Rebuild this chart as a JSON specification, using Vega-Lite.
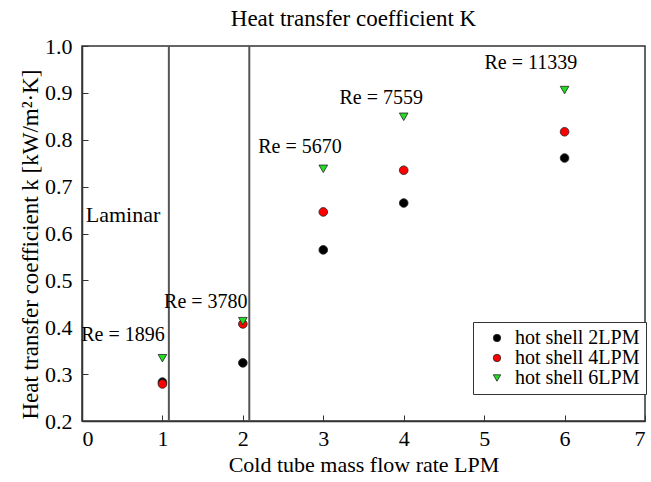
{
  "$schema": "https://vega.github.io/schema/vega-lite/v6.json",
  "width": 563,
  "height": 375,
  "autosize": {"type": "none"},
  "padding": {"left": 82, "top": 46, "right": 6, "bottom": 61},
  "background": "white",
  "config": {
    "font": "Liberation Serif",
    "view": {"stroke": "#333", "strokeWidth": 1.5},
    "axis": {"labelFont": "Liberation Serif", "titleFont": "Liberation Serif", "labelFontSize": 22, "titleFontSize": 22, "titleFontWeight": "normal", "labelColor": "black", "titleColor": "black", "grid": false, "domainColor": "#333", "tickColor": "#333", "domainWidth": 1.5}
  },
  "title": {"text": "Heat transfer coefficient K", "fontSize": 23, "fontWeight": "normal", "font": "Liberation Serif", "color": "black", "anchor": "middle", "offset": 4, "dx": -10},
  "datasets": {
    "pts": [
      {"flow": 1, "k": 0.283, "series": "hot shell 2LPM"},
      {"flow": 2, "k": 0.324, "series": "hot shell 2LPM"},
      {"flow": 3, "k": 0.565, "series": "hot shell 2LPM"},
      {"flow": 4, "k": 0.665, "series": "hot shell 2LPM"},
      {"flow": 6, "k": 0.761, "series": "hot shell 2LPM"},
      {"flow": 1, "k": 0.279, "series": "hot shell 4LPM"},
      {"flow": 2, "k": 0.407, "series": "hot shell 4LPM"},
      {"flow": 3, "k": 0.646, "series": "hot shell 4LPM"},
      {"flow": 4, "k": 0.735, "series": "hot shell 4LPM"},
      {"flow": 6, "k": 0.817, "series": "hot shell 4LPM"},
      {"flow": 1, "k": 0.334, "series": "hot shell 6LPM"},
      {"flow": 2, "k": 0.413, "series": "hot shell 6LPM"},
      {"flow": 3, "k": 0.738, "series": "hot shell 6LPM"},
      {"flow": 4, "k": 0.849, "series": "hot shell 6LPM"},
      {"flow": 6, "k": 0.906, "series": "hot shell 6LPM"}
    ],
    "lines": [{"flow": 1.08}, {"flow": 2.08}],
    "labels": [
      {"flow": 0.51, "k": 0.383, "label": "Re = 1896", "size": 20},
      {"flow": 1.54, "k": 0.454, "label": "Re = 3780", "size": 20},
      {"flow": 2.71, "k": 0.785, "label": "Re = 5670", "size": 20},
      {"flow": 3.72, "k": 0.889, "label": "Re = 7559", "size": 20},
      {"flow": 5.58, "k": 0.964, "label": "Re = 11339", "size": 20},
      {"flow": 0.51, "k": 0.64, "label": "Laminar", "size": 22}
    ]
  },
  "layer": [
    {
      "data": {"name": "lines"},
      "mark": {"type": "rule", "color": "#555", "strokeWidth": 2},
      "encoding": {"x": {"field": "flow", "type": "quantitative"}}
    },
    {
      "data": {"name": "labels"},
      "mark": {"type": "text", "font": "Liberation Serif", "color": "black"},
      "encoding": {
        "x": {"field": "flow", "type": "quantitative"},
        "y": {"field": "k", "type": "quantitative"},
        "text": {"field": "label"},
        "size": {"field": "size", "type": "quantitative", "scale": null, "legend": null}
      }
    },
    {
      "data": {"name": "pts"},
      "mark": {"type": "point", "filled": true, "stroke": "#222", "strokeWidth": 0.8, "size": 75, "opacity": 1},
      "encoding": {
        "x": {"field": "flow", "type": "quantitative", "scale": {"domain": [0, 7], "nice": false}, "axis": {"title": "Cold tube mass flow rate LPM", "values": [0,1,2,3,4,5,6,7], "format": "d", "tickSize": -6, "labelPadding": 13, "titlePadding": 5}},
        "y": {"field": "k", "type": "quantitative", "scale": {"domain": [0.2, 1.0], "nice": false, "zero": false}, "axis": {"title": "Heat transfer coefficient  k [kW/m²·K]", "titleFontSize": 23, "values": [0.2,0.3,0.4,0.5,0.6,0.7,0.8,0.9,1.0], "format": ".1f", "tickSize": -6, "labelPadding": 16, "titlePadding": 2, "titleY": 198}},
        "color": {"field": "series", "type": "nominal", "scale": {"domain": ["hot shell 2LPM", "hot shell 4LPM", "hot shell 6LPM"], "range": ["#000000", "#ff0000", "#22dd22"]},
          "legend": {"title": null, "orient": "none", "legendX": 391, "legendY": 276, "labelFontSize": 20, "labelFont": "Liberation Serif", "labelColor": "black", "strokeColor": "#333", "fillColor": "white", "padding": 6, "rowPadding": -1, "symbolSize": 55, "symbolOffset": 8, "labelOffset": 8, "symbolStrokeWidth": 0.8, "symbolStrokeColor": "#222", "labelLimit": 300}},
        "shape": {"field": "series", "type": "nominal", "scale": {"domain": ["hot shell 2LPM", "hot shell 4LPM", "hot shell 6LPM"], "range": ["circle", "circle", "triangle-down"]}}
      }
    }
  ]
}
